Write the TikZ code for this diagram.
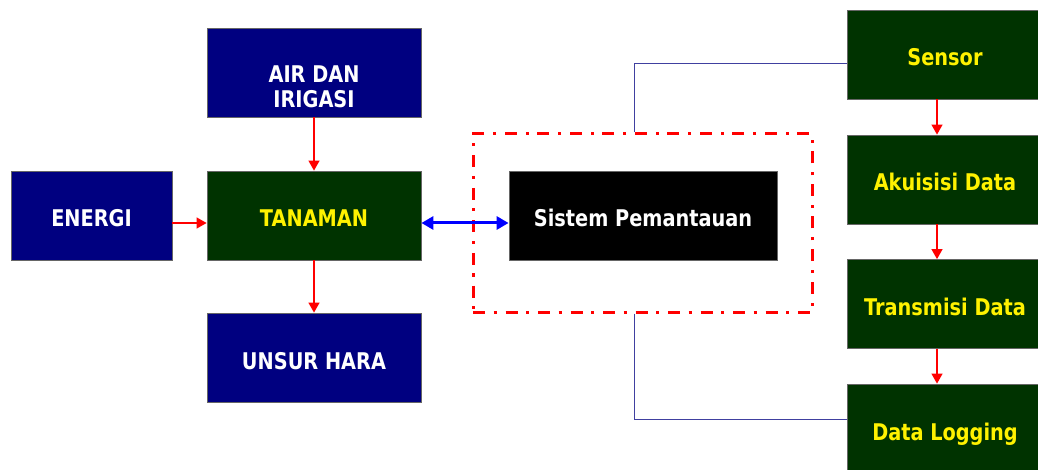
\documentclass[tikz,border=0pt]{standalone}
\usepackage{fontspec}
\setmainfont{DejaVu Sans}[FakeStretch=0.84]
\usetikzlibrary{arrows.meta}
\definecolor{navybox}{RGB}{0,0,128}
\definecolor{greenbox}{RGB}{0,51,0}
\definecolor{linkblue}{RGB}{64,64,160}
\tikzset{
  box/.style={draw=black!60, line width=0.8pt, minimum height=89pt, inner sep=0pt,
    align=center, text height=23pt, text depth=0pt,
    font=\fontsize{23}{25}\selectfont\bfseries},
  bluebox/.style={box, fill=navybox, text=white},
  greenbox/.style={box, fill=greenbox, text=yellow},
  flow/.style={draw=red, line width=1.2pt, -{Triangle[length=10pt,width=11pt]}},
}
\begin{document}
\begin{tikzpicture}[x=1pt,y=1pt]
  \useasboundingbox (0,0) rectangle (1038,469);
  % left side
  \node[bluebox, minimum width=214pt, text height=71pt] (air) at (314,396.5) {AIR DAN\\IRIGASI};
  \node[bluebox, minimum width=161pt] (energi) at (91.5,253.5) {ENERGI};
  \node[greenbox, minimum width=214pt] (tanaman) at (314,253.5) {TANAMAN};
  \node[bluebox, minimum width=214pt] (unsur) at (314,111.5) {UNSUR HARA};
  % monitoring system
  \node[draw=red, line width=3pt, dash pattern=on 12pt off 8.5pt on 3pt off 9pt,
    minimum width=339pt, minimum height=178pt] (frame) at (642.5,246) {};
  \node[box, fill=black, text=white, minimum width=268pt] (sistem) at (643,253.5) {Sistem Pemantauan};
  % right column
  \node[greenbox, minimum width=196pt] (sensor) at (945,414.5) {Sensor};
  \node[greenbox, minimum width=196pt] (akuisisi) at (945,289.5) {Akuisisi Data};
  \node[greenbox, minimum width=196pt] (transmisi) at (945,165) {Transmisi Data};
  \node[greenbox, minimum width=196pt] (logging) at (945,40.5) {Data Logging};
  \begin{scope}
    \draw[flow] (air) -- (tanaman);
    \draw[flow] (tanaman) -- (unsur);
    \draw[flow] ([yshift=-7.5pt]energi.east) -- ([yshift=-7.5pt]tanaman.west);
    \draw[draw=blue, line width=3pt, {Triangle[length=12pt,width=13pt]}-{Triangle[length=12pt,width=13pt]}]
      ([yshift=-7.5pt]tanaman.east) -- ([yshift=-7.5pt]sistem.west);
    \draw[flow] ([xshift=-8pt]sensor.south) -- ([xshift=-8pt]akuisisi.north);
    \draw[flow] ([xshift=-8pt]akuisisi.south) -- ([xshift=-8pt]transmisi.north);
    \draw[flow] ([xshift=-8pt]transmisi.south) -- ([xshift=-8pt]logging.north);
    \draw[linkblue, line width=0.8pt] ([xshift=-8.5pt]frame.north) |- ([yshift=-8.5pt]sensor.west);
    \draw[linkblue, line width=0.8pt] ([xshift=-8.5pt]frame.south) |- ([yshift=9.5pt]logging.west);
  \end{scope}
\end{tikzpicture}
\end{document}
